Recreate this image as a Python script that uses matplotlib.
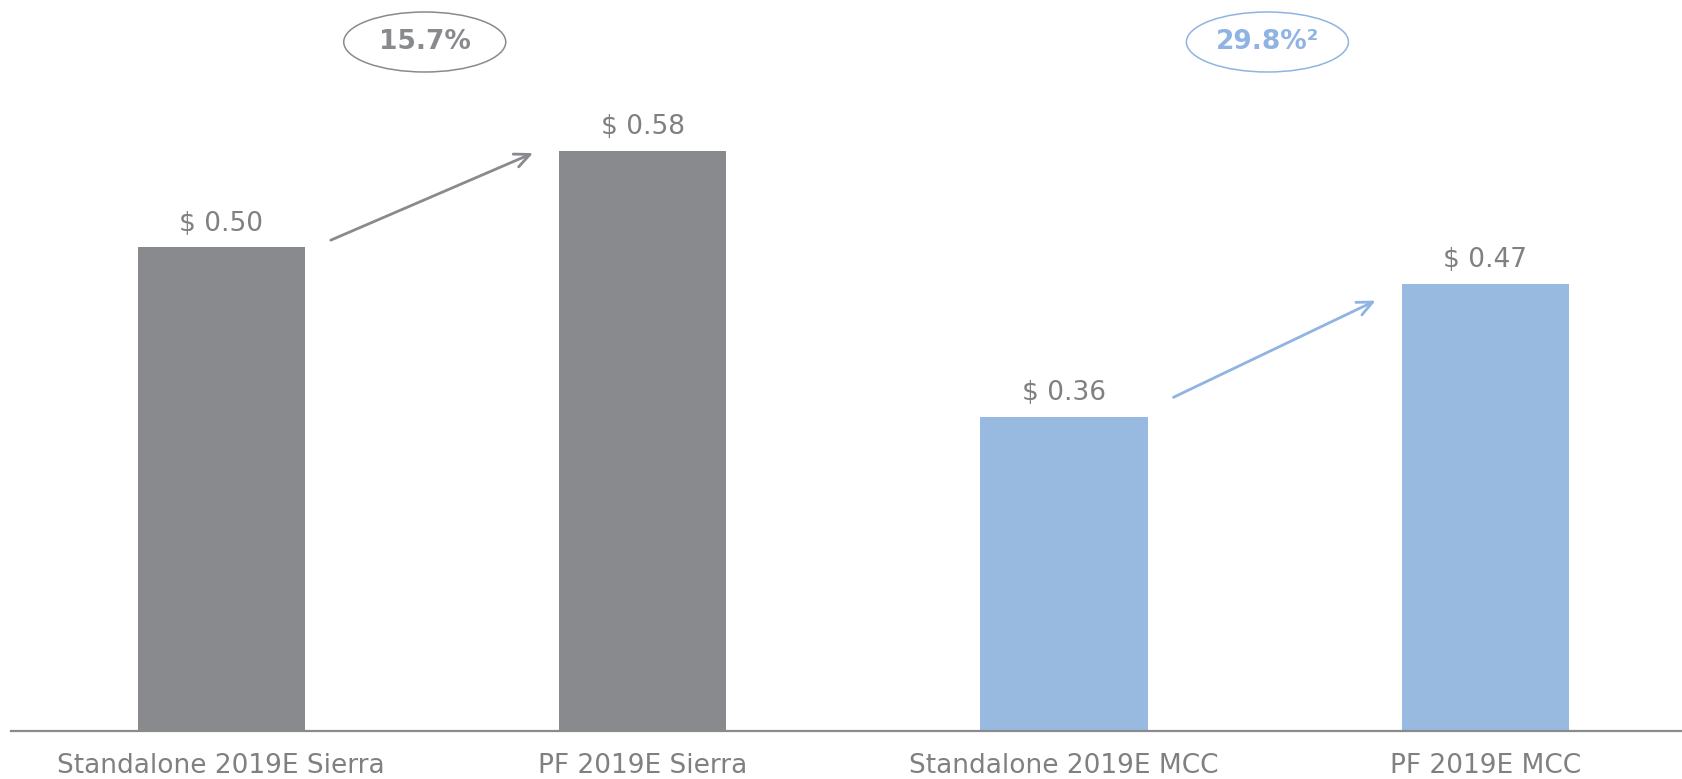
import matplotlib
matplotlib.use("Agg")
import matplotlib.pyplot as plt
from matplotlib.patches import Ellipse

# data
categories = ["Standalone 2019E Sierra", "PF 2019E Sierra",
              "Standalone 2019E MCC", "PF 2019E MCC"]
values = [0.50, 0.58, 0.36, 0.47]
value_labels = ["$ 0.50", "$ 0.58", "$ 0.36", "$ 0.47"]
growth_labels = ["15.7%", "29.8%\u00b2"]

grey = "#898a8e"
blue = "#99bae0"
text_grey = "#808080"
bar_colors = [grey, grey, blue, blue]
group_colors = [grey, "#8fb4e2"]

# arrow ends sit a little off the bar tops
arrow_start_off = [0.006, 0.016]
arrow_end_off = [-0.002, -0.014]

fig = plt.figure(figsize=(16.82, 7.79), dpi=100)
ax = fig.add_axes([11 / 1682, 48 / 779, 1 - 11 / 1682, 731 / 779])

x = list(range(len(categories)))
ax.bar(x, values, width=0.397, color=bar_colors, linewidth=0, zorder=2)

ax.set_xlim(-0.499, 3.467)
ax.set_ylim(0.10, 0.10 + 731 / 1209)

# value labels
for xi, v, lab in zip(x, values, value_labels):
    ax.annotate(lab, (xi, v), xytext=(0, 12), textcoords="offset points",
                ha="center", va="baseline", fontsize=19, color=text_grey)

# arrows + growth ellipses
for g in range(2):
    i0, i1 = 2 * g, 2 * g + 1
    col = group_colors[g]
    ax.annotate("", xy=(i1 - 0.26, values[i1] + arrow_end_off[g]),
                xytext=(i0 + 0.26, values[i0] + arrow_start_off[g]),
                arrowprops=dict(arrowstyle="->,head_length=1.1,head_width=0.5",
                                color=col, lw=2, shrinkA=0, shrinkB=0))
    cx = (i0 + i1) / 2 - 0.017
    cy = 0.10 + (731 - 42) / 1209
    ax.add_patch(Ellipse((cx, cy), 162 / 421.2, 60 / 1209, fill=False,
                         edgecolor=col, lw=1.1, clip_on=False))
    ax.text(cx, cy, growth_labels[g], ha="center", va="center",
            fontsize=19, fontweight="bold", color=col)

for s in ["top", "left", "right"]:
    ax.spines[s].set_visible(False)
ax.spines["bottom"].set_color("#8a8a8a")
ax.spines["bottom"].set_linewidth(1.6)
ax.set_yticks([])
ax.set_xticks(x)
ax.set_xticklabels(categories, fontsize=19, color=text_grey)
ax.tick_params(axis="x", length=0, pad=16)

fig.savefig("out.png", dpi=100)
